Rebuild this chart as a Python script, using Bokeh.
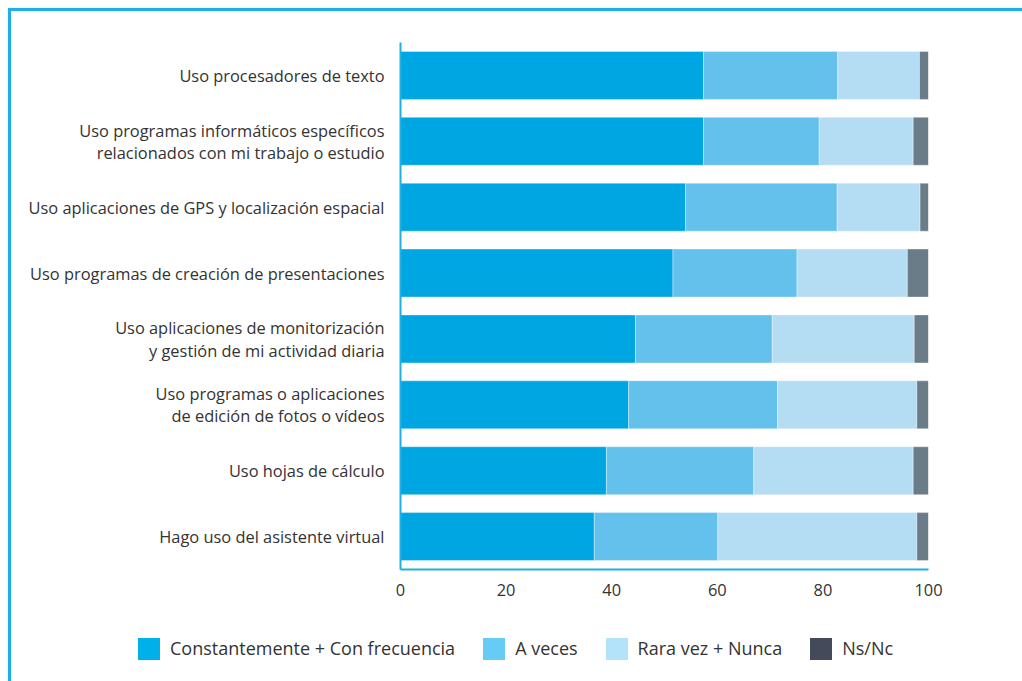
from bokeh.plotting import figure
from bokeh.layouts import column
from bokeh.models import FactorRange, Range1d, FixedTicker, ColumnDataSource, Div
from bokeh.embed import file_html
from bokeh.resources import INLINE

categories = [
    "Uso procesadores de texto",
    "Uso programas informáticos específicos\nrelacionados con mi trabajo o estudio",
    "Uso aplicaciones de GPS y localización espacial",
    "Uso programas de creación de presentaciones",
    "Uso aplicaciones de monitorización\ny gestión de mi actividad diaria",
    "Uso programas o aplicaciones\nde edición de fotos o vídeos",
    "Uso hojas de cálculo",
    "Hago uso del asistente virtual",
]
series_names = ["Constantemente + Con frecuencia", "A veces", "Rara vez + Nunca", "Ns/Nc"]
constantemente = [57.4, 57.4, 54.0, 51.6, 44.5, 43.2, 39.0, 36.7]
a_veces = [25.4, 21.9, 28.7, 23.5, 25.9, 28.2, 27.9, 23.4]
rara_vez = [15.5, 17.8, 15.7, 20.9, 26.9, 26.4, 30.2, 37.7]
ns_nc = [1.7, 2.9, 1.6, 4.0, 2.7, 2.2, 2.9, 2.2]
x_ticks = [0, 20, 40, 60, 80, 100]

bar_colors = ["#00a6e2", "#63c1ec", "#b4ddf4", "#6b7c89"]
swatch_colors = ["#00b0ea", "#66ccf5", "#b3e3fa", "#444a59"]
keys = ["c1", "c2", "c3", "c4"]
FONT = "Open Sans"
FS = "16.4px"
TXT = "#333333"
CYAN = "#1cb0e6"

source = ColumnDataSource(dict(cat=categories, c1=constantemente, c2=a_veces, c3=rara_vez, c4=ns_nc))

p = figure(
    y_range=FactorRange(*list(reversed(categories)), range_padding=0),
    x_range=Range1d(0, 100),
    width=1011, height=598,
    min_border_left=389, min_border_right=94, min_border_top=31, min_border_bottom=40,
    output_backend="svg", toolbar_location=None,
)
p.outline_line_color = None
p.xgrid.grid_line_color = None
p.ygrid.grid_line_color = None

p.hbar_stack(keys, y="cat", height=0.728, color=bar_colors, source=source,
             line_color="white", line_alpha=0.35, line_width=1)

xa = p.xaxis[0]
xa.ticker = FixedTicker(ticks=x_ticks)
xa.axis_line_color = CYAN
xa.axis_line_width = 2
xa.major_tick_line_color = None
xa.minor_tick_line_color = None
xa.major_tick_out = 0
xa.major_tick_in = 0
xa.major_label_standoff = 14
xa.major_label_text_font = FONT
xa.major_label_text_font_size = FS
xa.major_label_text_color = TXT

ya = p.yaxis[0]
ya.axis_line_color = CYAN
ya.axis_line_width = 2
ya.major_tick_line_color = None
ya.minor_tick_line_color = None
ya.major_tick_out = 0
ya.major_tick_in = 0
ya.major_label_standoff = 16
ya.major_label_text_font = FONT
ya.major_label_text_font_size = FS
ya.major_label_text_color = TXT
ya.major_label_text_line_height = 0.97

# legend as an HTML strip below the chart
parts = []
for name, col in zip(series_names, swatch_colors):
    parts.append(
        f'<span style="display:inline-block;width:22px;height:22px;background:{col};'
        f'margin-right:10px;flex:none"></span>'
        f'<span style="margin-right:28px;white-space:nowrap">{name}</span>'
    )
legend_div = Div(
    text=(f'<div style="display:flex;align-items:center;font-family:\'{FONT}\';'
          f'font-size:18px;color:{TXT};padding-left:122px;padding-top:22px">'
          + "".join(parts) + "</div>"),
    width=1011, height=72,
)

layout = column(p, legend_div, spacing=0)
layout.styles = {"border-left": f"3px solid {CYAN}", "border-top": f"3px solid {CYAN}",
                 "margin-left": "8px", "margin-top": "8px"}

open("out.html", "w").write(file_html(layout, INLINE))
